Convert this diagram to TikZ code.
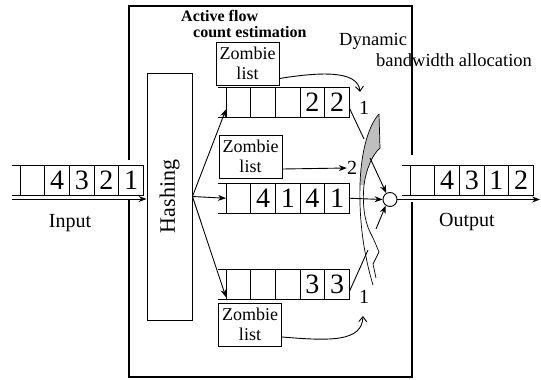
\documentclass[tikz,border=0pt]{standalone}
\usepackage{fontspec}
\setmainfont{Liberation Serif}
\usetikzlibrary{arrows.meta,positioning}
\begin{document}
\begin{tikzpicture}[x=1pt,y=-1pt,
 cell/.style={draw,line width=0.9pt,minimum width=24.7pt,minimum height=30.5pt,inner sep=0pt,outer sep=0pt,font=\fontsize{28}{28}\selectfont},
 zbox/.style={draw,line width=0.9pt,minimum width=63pt,minimum height=43pt,inner sep=1pt,align=center,font=\fontsize{18}{19.5}\selectfont},
 lbl/.style={inner sep=0pt,font=\fontsize{20}{22}\selectfont},
 ttl/.style={inner sep=0pt,font=\fontsize{16}{16}\selectfont\bfseries},
 dyn/.style={inner sep=0pt,font=\fontsize{18.5}{19}\selectfont},
 arr/.style={line width=0.9pt,-{Stealth[length=8pt,width=6pt]}},
 barb/.style={line width=0.9pt,-{Straight Barb[length=5pt,width=8pt]}},
 ln/.style={line width=0.9pt},
 frame/.style={line width=2pt}]
\useasboundingbox (0,0) rectangle (541,380);

% outer frame
\draw[frame] (129,160) -- (129,6) -- (412,6) -- (412,155);
\draw[frame] (129,199) -- (129,377) -- (412,377) -- (412,202);

% titles
\node[ttl,anchor=west] (title1) at (181,15.5) {Active flow};
\node[ttl,anchor=west] (title2) at (193,32) {count estimation};
\node[dyn,anchor=west] (dyn1) at (339,41) {Dynamic};
\node[dyn,anchor=west] (dyn2) at (376,60) {bandwidth allocation};

% input queue
\node[cell,anchor=north west] (i0) at (20,165) {};
\node[cell,anchor=west] (i1) at (i0.east) {4};
\node[cell,anchor=west] (i2) at (i1.east) {3};
\node[cell,anchor=west] (i3) at (i2.east) {2};
\node[cell,anchor=west] (i4) at (i3.east) {1};
\draw[ln] (i0.north west) -- ++(-8,0) (i0.south west) -- ++(-8,0);
\node[lbl] (inlbl) at (70,223) {Input};

% hashing
\node[draw,line width=0.9pt,minimum width=45pt,minimum height=247pt,inner sep=0pt] (hash) at (169.5,196.5) {};
\node[rotate=90,inner sep=0pt,font=\fontsize{22}{22}\selectfont] (hashtxt) at (hash.center) {Hashing};
\coordinate (inL) at (12,199);
\draw[arr] (inL) -- (inL -| hash.west);

% top queue
\node[cell,anchor=north west] (t0) at (226,87) {};
\node[cell,anchor=west] (t1) at (t0.east) {};
\node[cell,anchor=west] (t2) at (t1.east) {};
\node[cell,anchor=west] (t3) at (t2.east) {2};
\node[cell,anchor=west] (t4) at (t3.east) {2};
\draw[ln] (t0.north west) -- ++(-8,0) (t0.south west) -- ++(-8,0);

% middle queue
\node[cell,anchor=north west] (m0) at (226,183) {};
\node[cell,anchor=west] (m1) at (m0.east) {4};
\node[cell,anchor=west] (m2) at (m1.east) {1};
\node[cell,anchor=west] (m3) at (m2.east) {4};
\node[cell,anchor=west] (m4) at (m3.east) {1};
\draw[ln] (m0.north west) -- ++(-8,0) (m0.south west) -- ++(-8,0);

% bottom queue
\node[cell,anchor=north west] (b0) at (226,269) {};
\node[cell,anchor=west] (b1) at (b0.east) {};
\node[cell,anchor=west] (b2) at (b1.east) {};
\node[cell,anchor=west] (b3) at (b2.east) {3};
\node[cell,anchor=west] (b4) at (b3.east) {3};
\draw[ln] (b0.north west) -- ++(-8,0) (b0.south west) -- ++(-8,0);

% hashing arrows
\draw[arr] (hash.east) -- ([yshift=-7pt]t0.west);
\draw[arr] (hash.east) -- (m0.west);
\draw[arr] (hash.east) -- ([yshift=-13pt]b0.west);

% zombie lists
\node[zbox] (zt) at (247.5,63.5) {Zombie\\list};
\node[zbox] (zm) at (250.5,156.5) {Zombie\\list};
\node[zbox] (zb) at (250,324.5) {Zombie\\list};

\node[lbl] (one1) at (364,108) {1};
\node[lbl] (two) at (352,168) {2};
\node[lbl] (one2) at (364,297) {1};

\coordinate (ztip) at (360,92);
\coordinate (btip) at (363,316);
\draw[barb] ([yshift=-15pt]zt.east) .. controls (320,72) and (358,70) .. (ztip);
\draw[arr] ([yshift=-12.5pt]zm.east) -- (two.west);
\draw[barb] ([yshift=-12.5pt]zb.east) .. controls (330,341) and (362,342) .. (btip);

% crescent (bandwidth allocation)
\fill[black!25] (379,114) .. controls (369,125) and (361,150) .. (360,185)
  -- (364,185) .. controls (366,170) and (372,155) .. (380,148) -- cycle;
\draw[line width=0.7pt] (379,114) .. controls (369,125) and (361,150) .. (360,185)
  .. controls (359,222) and (364,255) .. (373,285);
\draw[line width=0.7pt] (379,114) -- (380,148) .. controls (372,155) and (366,170) .. (364,185)
  .. controls (362,205) and (365,222) .. (370,232);
\draw[line width=0.7pt] (370,232) .. controls (374,240) .. (379,252) -- (373,264) -- (376,278);

% merge point
\node[circle,draw,line width=0.9pt,minimum size=14pt,inner sep=0pt] (mux) at (390,199.5) {};

\coordinate (tB) at (364,139);
\coordinate (tC) at (370,158);
\coordinate (bB) at (368,250);
\coordinate (bC) at (376,229);
\draw[ln] ([yshift=-6pt]t4.east) -- (tB);
\draw[arr] (tC) -- (mux.120);
\draw[ln] ([yshift=-7pt]b4.east) -- (bB);
\draw[arr] (bC) -- (mux.235);
\draw[arr] (m4.east) -- (mux.west);

% output queue
\node[cell,anchor=north west] (o0) at (410,165) {};
\node[cell,anchor=west] (o1) at (o0.east) {4};
\node[cell,anchor=west] (o2) at (o1.east) {3};
\node[cell,anchor=west] (o3) at (o2.east) {1};
\node[cell,anchor=west] (o4) at (o3.east) {2};
\draw[ln] (o0.north west) -- ++(-8,0) (o0.south west) -- ++(-8,0);
\coordinate (outR) at (540,199.5);
\draw[arr] (mux.east) -- (outR);
\node[lbl] (outlbl) at (467,222) {Output};
\end{tikzpicture}
\end{document}
